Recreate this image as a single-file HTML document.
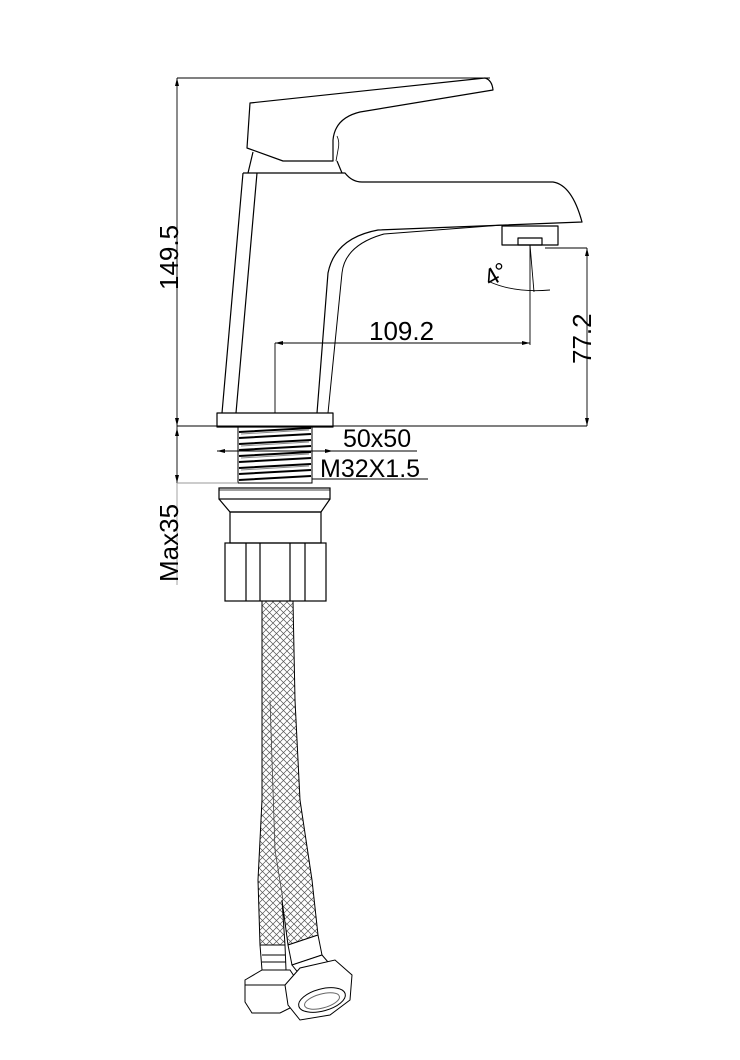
<!DOCTYPE html>
<html><head><meta charset="utf-8"><style>
html,body{margin:0;padding:0;background:#fff}
svg{display:block}
text{font-family:"Liberation Sans",Arial,sans-serif;fill:#000}
</style></head><body>
<svg width="740" height="1060" viewBox="0 0 740 1060" xmlns="http://www.w3.org/2000/svg">
<defs>
<pattern id="hx" width="7" height="7" patternUnits="userSpaceOnUse">
<path d="M0,0 L7,7 M7,0 L0,7" stroke="#555" stroke-width="0.7"/>
</pattern>
</defs>
<g fill="none" stroke="#000" stroke-width="1.2" stroke-linejoin="round">
<path d="M250,103 L485,78 Q492,80 493,90 L360,112 Q335,118 333,140 L333,161 L283,161 L247,148 Z"/>
<path d="M336,161 L338,150 Q340,142 337,136" stroke-width="0.8"/>
<path d="M253,152 L248,173 M337,161 L342,173"/>
<path d="M243,173 L345,173 Q352,182 362,182 L553,182 Q572,185 582,222 L378,230 Q335,238 328,273 L317,413"/>
<path d="M243,173 L222,413 M257,173 L236,413"/>
<path d="M502,225 L384,234 Q345,245 342,273 L328,413" stroke-width="1"/>
<rect x="502" y="226" width="56" height="19"/>
<rect x="518" y="238" width="24" height="7"/>
<rect x="217" y="413" width="116" height="14"/>
</g>
<rect x="238" y="427" width="74" height="56" fill="none" stroke="#000" stroke-width="1"/>
<g stroke="#000" stroke-width="2">
<path d="M239,432 L311,428 M239,438 L311,434 M239,444 L311,440 M239,450 L311,446 M239,456 L311,452 M239,462 L311,458 M239,468 L311,464 M239,474 L311,470 M239,480 L311,476"/>
</g>
<g stroke="#888" stroke-width="1" fill="none">
<path d="M241,434 L309,430 M241,446 L309,442 M241,458 L309,454 M241,470 L309,466"/>
</g>
<g fill="none" stroke="#000" stroke-width="1.2">
<rect x="219" y="488" width="111" height="11"/>
<path d="M219,490 L330,490" stroke-width="0.7"/>
<path d="M219,499 L230,512 L321,512 L330,499"/>
<rect x="230" y="512" width="91" height="31"/>
<rect x="225" y="543" width="101" height="58"/>
<path d="M246,543 V601 M260,543 V601 M290,543 V601 M305,543 V601"/>
</g>
<path d="M262,601 L293,601 L295,700 L300,800 L312,880 L318,935 L288,945 L282,900 L285,945 L260,945 L258,880 L262,800 Z" fill="url(#hx)" stroke="#000" stroke-width="1"/>
<path d="M270,700 L275,850 L283,900" fill="none" stroke="#444" stroke-width="0.8"/>
<g fill="#fff" stroke="#000" stroke-width="1">
<path d="M260,945 L285,945 L286,970 L262,970 Z"/>
<path d="M262,955 L285,955 M262,962 L286,962" fill="none"/>
<path d="M245,980 L262,970 L290,970 L298,982 L296,1005 L280,1013 L252,1013 L245,1002 Z"/>
<path d="M245,985 L296,985" fill="none"/>
<path d="M288,945 L318,935 L322,955 L292,965 Z"/>
<path d="M292,965 L322,955 L328,962 L300,975 Z"/>
<path d="M285,985 L300,968 L335,960 L352,975 L350,1000 L330,1015 L300,1020 L288,1005 Z"/>
<ellipse cx="322" cy="1000" rx="24" ry="11" transform="rotate(-15 322 1000)" fill="none"/>
<ellipse cx="322" cy="1001" rx="18" ry="7" transform="rotate(-15 322 1001)" fill="none" stroke="#666"/>
</g>
<g stroke="#000" stroke-width="0.9" fill="none">
<path d="M177,78 H490"/>
<path d="M177,78 V426"/>
<path d="M177,426 H587"/>
<path d="M177,426 V483"/>
<path d="M177,483 H238" stroke="#999"/>
<path d="M177,483 V585" stroke="#999"/>
<path d="M530,245 V345"/>
<path d="M275,343 H530"/>
<path d="M275,343 V413"/>
<path d="M545,248 H587"/>
<path d="M587,248 V426"/>
<path d="M217,451 H417"/>
<path d="M312,479 H428"/>
<path d="M490,282 Q515,293 550,290"/>
<path d="M530,245 L534,292"/>
</g>
<g fill="#000">
<path d="M177,78 l-2,8 h4 z M177,426 l-2,-8 h4 z M177,428 l-2,8 h4z M177,483 l-2,-8 h4z"/>
<path d="M587,248 l-2,8 h4 z M587,426 l-2,-8 h4 z"/>
<path d="M275,343 l8,-2 v4 z M530,343 l-8,-2 v4 z"/>
<path d="M217,451 l8,-2 v4 z M333,451 l-8,-2 v4 z"/>
</g>
<text font-size="26" transform="translate(178,290) rotate(-90)">149.5</text>
<text font-size="26" transform="translate(591,364) rotate(-90)">77.2</text>
<text font-size="26" transform="translate(178,582) rotate(-90)">Max35</text>
<text x="369" y="340" font-size="26">109.2</text>
<text x="343" y="447" font-size="25">50x50</text>
<text x="320" y="477" font-size="25">M32X1.5</text>
<text font-size="24" transform="translate(490,287) rotate(-30)">4°</text>
</svg>
</body></html>
